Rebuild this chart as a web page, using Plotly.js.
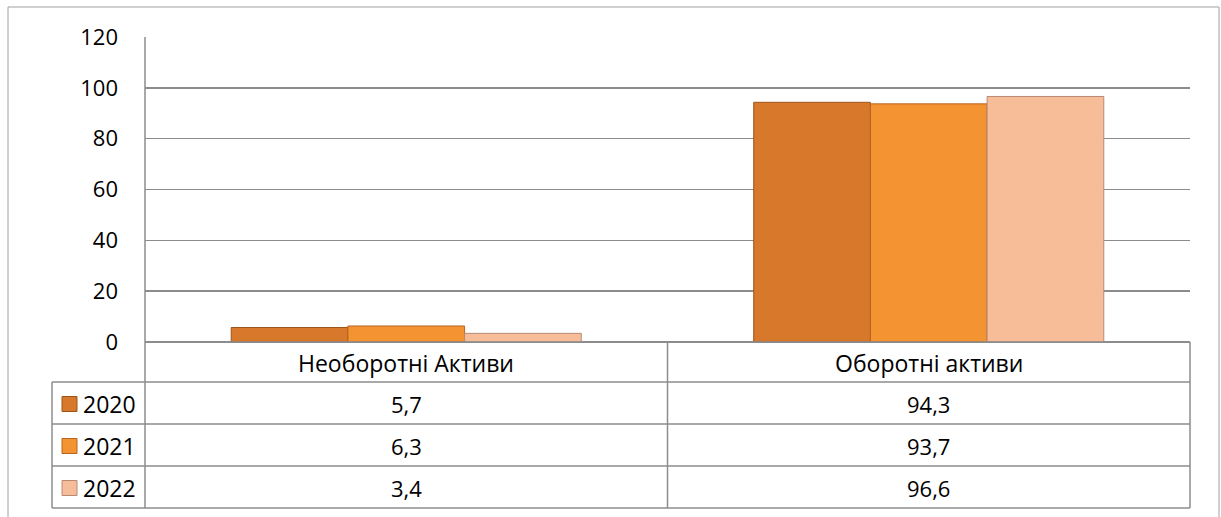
<!DOCTYPE html>
<html>
<head>
<meta charset="utf-8">
<script src="https://cdn.plot.ly/plotly-3.0.1.min.js"></script>
<style>html,body{margin:0;padding:0;background:#fff;}#chart{width:1221px;height:517px;}</style>
</head>
<body>
<div id="chart"></div>
<script>
// ---- data ----
const categories = ["Необоротні Активи", "Оборотні активи"];
const seriesNames = ["2020", "2021", "2022"];
const values2020 = [5.7, 94.3];
const values2021 = [6.3, 93.7];
const values2022 = [3.4, 96.6];
const yTicks = [0, 20, 40, 60, 80, 100, 120];

const seriesValues = [values2020, values2021, values2022];
const fillColors = ["#D8782B", "#F49331", "#F6BD98"];
const lineColors = ["#9E5419", "#B8641E", "#B88A74"];

// ---- geometry (pixels) ----
const W = 1221, H = 517;
const L = 145, R = 1190, T = 37, B = 342;
const legendLeft = 52;
const rowEdges = [342, 382, 424, 466, 508];
const pw = R - L, ph = B - T;
const px = x => (x - L) / pw;
const py = y => (B - y) / ph;

const fontFam = "'Open Sans', 'Noto Sans', sans-serif";
const gridCol = "#8c8c8c";

const traces = seriesNames.map((n, i) => ({
  type: "bar",
  name: n,
  x: categories,
  y: seriesValues[i],
  marker: { color: fillColors[i], line: { color: lineColors[i], width: 1 } },
  hoverinfo: "x+y+name"
}));

const shapes = [];
const annotations = [];
const line = (x0, y0, x1, y1, col, w) => shapes.push({
  type: "line", xref: "paper", yref: "paper",
  x0: px(x0), y0: py(y0), x1: px(x1), y1: py(y1),
  line: { color: col || gridCol, width: w || 1.5 }, layer: "above"
});

// outer chart border
line(8, 7, 1219, 7, "#a0a0a0", 1);
line(8, 7, 8, 517, "#a0a0a0", 1);
line(1219, 7, 1219, 517, "#a0a0a0", 1);

// table lines
line(L, rowEdges[0], R, rowEdges[0]);
for (let k = 1; k < rowEdges.length; k++) line(legendLeft, rowEdges[k], R, rowEdges[k]);
line(legendLeft, rowEdges[1], legendLeft, rowEdges[4]);
line(L, T, L, rowEdges[4]);
line(L + pw / 2, rowEdges[0], L + pw / 2, rowEdges[4]);
line(R, rowEdges[0], R, rowEdges[4]);

// category header row
categories.forEach((c, j) => {
  annotations.push({
    xref: "paper", yref: "paper", x: px(L + pw * (j + 0.5) / categories.length),
    y: py((rowEdges[0] + rowEdges[1]) / 2 + 1), text: c, showarrow: false,
    xanchor: "center", yanchor: "middle", font: { family: fontFam, size: 23, color: "#000" }
  });
});

// series rows
seriesNames.forEach((n, i) => {
  const yc = (rowEdges[i + 1] + rowEdges[i + 2]) / 2;
  shapes.push({
    type: "rect", xref: "paper", yref: "paper",
    x0: px(62), x1: px(77), y0: py(yc - 7.5 + 1), y1: py(yc + 7.5 + 1),
    fillcolor: fillColors[i], line: { color: lineColors[i], width: 1 }, layer: "above"
  });
  annotations.push({
    xref: "paper", yref: "paper", x: px(81), y: py(yc + 1), text: n, showarrow: false,
    xanchor: "left", yanchor: "middle", font: { family: fontFam, size: 23, color: "#000" }
  });
  seriesValues[i].forEach((v, j) => {
    annotations.push({
      xref: "paper", yref: "paper", x: px(L + pw * (j + 0.5) / categories.length),
      y: py(yc + 1), text: v.toFixed(1).replace(".", ","), showarrow: false,
      xanchor: "center", yanchor: "middle", font: { family: fontFam, size: 22, color: "#000" }
    });
  });
});

const layout = {
  width: W, height: H,
  margin: { l: L, r: W - R, t: T, b: H - B, pad: 0 },
  paper_bgcolor: "#fff", plot_bgcolor: "#fff",
  barmode: "group", bargap: 0.33, bargroupgap: 0,
  showlegend: false,
  font: { family: fontFam, size: 22, color: "#000" },
  xaxis: { showticklabels: false, showgrid: false, zeroline: false, showline: false, ticks: "" },
  yaxis: {
    range: [0, 120], tickvals: yTicks, ticktext: yTicks.map(String),
    showgrid: true, gridcolor: gridCol, gridwidth: 1.5,
    zeroline: true, zerolinecolor: gridCol, zerolinewidth: 1.5,
    showline: false, ticks: "", ticklabelstandoff: 26,
    tickfont: { family: fontFam, size: 22, color: "#000" }
  },
  shapes: shapes,
  annotations: annotations
};

Plotly.newPlot("chart", traces, layout, { displayModeBar: false, staticPlot: true });
</script>
</body>
</html>
